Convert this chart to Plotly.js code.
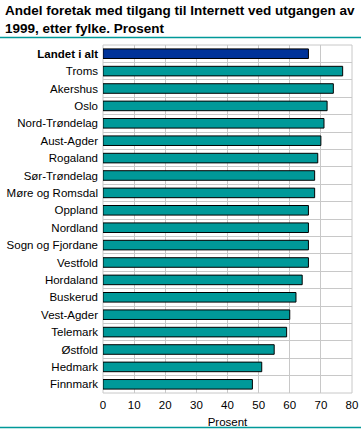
<!DOCTYPE html>
<html>
<head>
<meta charset="utf-8">
<script src="https://cdn.plot.ly/plotly-3.0.1.min.js"></script>
<style>html,body{margin:0;padding:0;background:#fff;}#chart{width:361px;height:429px;}</style>
</head>
<body>
<div id="chart"></div>
<script>
const categories = ["Landet i alt","Troms","Akershus","Oslo","Nord-Trøndelag","Aust-Agder","Rogaland","Sør-Trøndelag","Møre og Romsdal","Oppland","Nordland","Sogn og Fjordane","Vestfold","Hordaland","Buskerud","Vest-Agder","Telemark","Østfold","Hedmark","Finnmark"];
const values = [66,77,74,72,71,70,69,68,68,66,66,66,66,64,62,60,59,55,51,48];
const tickVals = [0,10,20,30,40,50,60,70,80];
const totalLabel = "Landet i alt";
const titleText = "Andel foretak med tilgang til Internett ved utgangen av<br>1999, etter fylke. Prosent";

const barColors = categories.map(c => c === totalLabel ? "#003399" : "#009999");
const tickText = categories.map(c => c === totalLabel ? "<b>" + c + "</b>" : c);

const W = 361, H = 429, L = 103, R = 9, T = 45, B = 36;
const pw = W - L - R, ph = H - T - B;
const px = x => (x - L) / pw;
const py = y => (H - B - y) / ph;

const trace = {
  type: "bar",
  orientation: "h",
  y: categories,
  x: values,
  width: 0.55,
  marker: {color: barColors, line: {color: "#000000", width: 1}},
  hoverinfo: "none"
};

const layout = {
  width: W, height: H,
  margin: {l: L, r: R, t: T, b: B, pad: 0},
  paper_bgcolor: "#ffffff",
  plot_bgcolor: "#ffffff",
  showlegend: false,
  font: {family: "Liberation Sans, Arial, sans-serif", size: 11.5, color: "#000000"},
  annotations: [{
    text: "<b>" + titleText + "</b>",
    xref: "paper", yref: "paper",
    x: px(3), y: py(1), xanchor: "left", yanchor: "top", align: "left",
    showarrow: false,
    font: {family: "Liberation Sans, Arial, sans-serif", size: 13.5, color: "#000000"}
  }],
  xaxis: {
    range: [0, 80],
    tickvals: tickVals,
    ticktext: tickVals.map(String),
    showgrid: true, gridcolor: "#c8c8c8", gridwidth: 1,
    zeroline: false, showline: false, ticks: "", ticklen: 0,
    tickfont: {size: 11.5},
    ticklabelstandoff: 3,
    title: {text: "Prosent", font: {size: 11.5}, standoff: 8},
    fixedrange: true
  },
  yaxis: {
    type: "category",
    autorange: "reversed",
    tickvals: categories,
    ticktext: tickText,
    tickson: "boundaries",
    showgrid: true, gridcolor: "#c8c8c8", gridwidth: 1,
    zeroline: false, showline: false, ticks: "", ticklen: 0,
    ticklabelstandoff: 4,
    tickfont: {size: 11.5},
    fixedrange: true
  },
  shapes: [
    {type: "line", xref: "paper", yref: "paper", x0: px(0), x1: px(W), y0: py(37.5), y1: py(37.5), line: {color: "#009999", width: 1.5}},
    {type: "line", xref: "paper", yref: "paper", x0: px(0), x1: px(W), y0: py(427.5), y1: py(427.5), line: {color: "#009999", width: 1.5}},
    {type: "rect", xref: "paper", yref: "paper", x0: 0, x1: 1, y0: 0, y1: 1, line: {color: "#c8c8c8", width: 1}, layer: "below"}
  ]
};

Plotly.newPlot("chart", [trace], layout, {staticPlot: true, displayModeBar: false});
</script>
</body>
</html>
